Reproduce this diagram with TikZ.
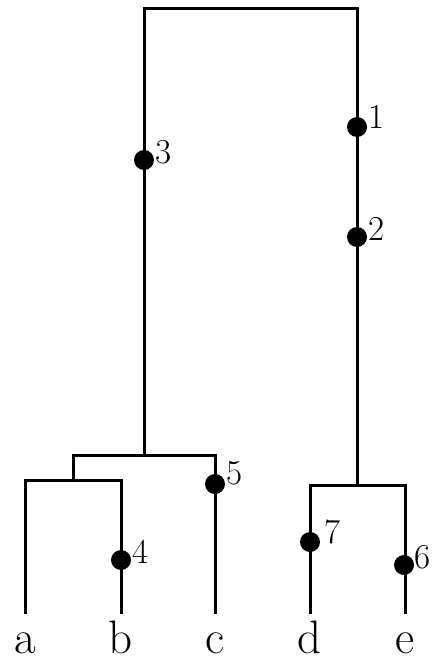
\documentclass[tikz,border=0pt]{standalone}
\usepackage{fontspec}
\usetikzlibrary{positioning}

\begin{document}
\begin{tikzpicture}[
    x=1pt, y=-1pt,
    branch/.style={line width=3pt},
    mut/.style={circle, fill=black, inner sep=0pt, minimum size=20pt},
    num/.style={font=\fontsize{35}{35}\selectfont, inner sep=0pt, anchor=base west},
    leaf/.style={font=\fontsize{47}{47}\selectfont, inner sep=0pt, anchor=base}
]
\useasboundingbox (0,0) rectangle (435,661);

% leaves and inner joints
\coordinate (la) at (25,614);
\coordinate (lb) at (121,614);
\coordinate (lc) at (215,614);
\coordinate (ld) at (310,614);
\coordinate (le) at (405,614);
\coordinate (jab) at (73,480);
\coordinate (jabc) at (144,455);
\coordinate (jde) at (357,485);
\coordinate (top) at (250,9);

% branches
\draw[branch] (la) |- (jab) -| (lb);
\draw[branch] (jab) |- (jabc) -| (lc);
\draw[branch] (ld) |- (jde) -| (le);
\draw[branch] (jabc) |- (top) -| (jde);

% leaf names
\node[leaf] (na) at (25,653) {a};
\node[leaf] (nb) at (121,653) {b};
\node[leaf] (nc) at (215,653) {c};
\node[leaf] (nd) at (310,653) {d};
\node[leaf] (ne) at (405,653) {e};

% mutations on the branches
\node[mut] (m1) at (357,127) {};
\node[mut] (m2) at (357,237) {};
\node[mut] (m3) at (144,160) {};
\node[mut] (m4) at (121,560) {};
\node[mut] (m5) at (215,484) {};
\node[mut] (m6) at (404,565) {};
\node[mut] (m7) at (310,542) {};

\node[num] (t1) at ([xshift=1.5pt,yshift=-1pt]m1.east) {1};
\node[num] (t2) at ([xshift=1.5pt,yshift=-3pt]m2.east) {2};
\node[num] (t3) at ([xshift=1.5pt,yshift=-3pt]m3.east) {3};
\node[num] (t4) at ([xshift=1.5pt,yshift=-3pt]m4.east) {4};
\node[num] (t5) at ([xshift=1.5pt,yshift=0pt]m5.east) {5};
\node[num] (t6) at ([xshift=0pt,yshift=-3pt]m6.east) {6};
\node[num] (t7) at ([xshift=4pt,yshift=-1pt]m7.east) {7};
\end{tikzpicture}
\end{document}
